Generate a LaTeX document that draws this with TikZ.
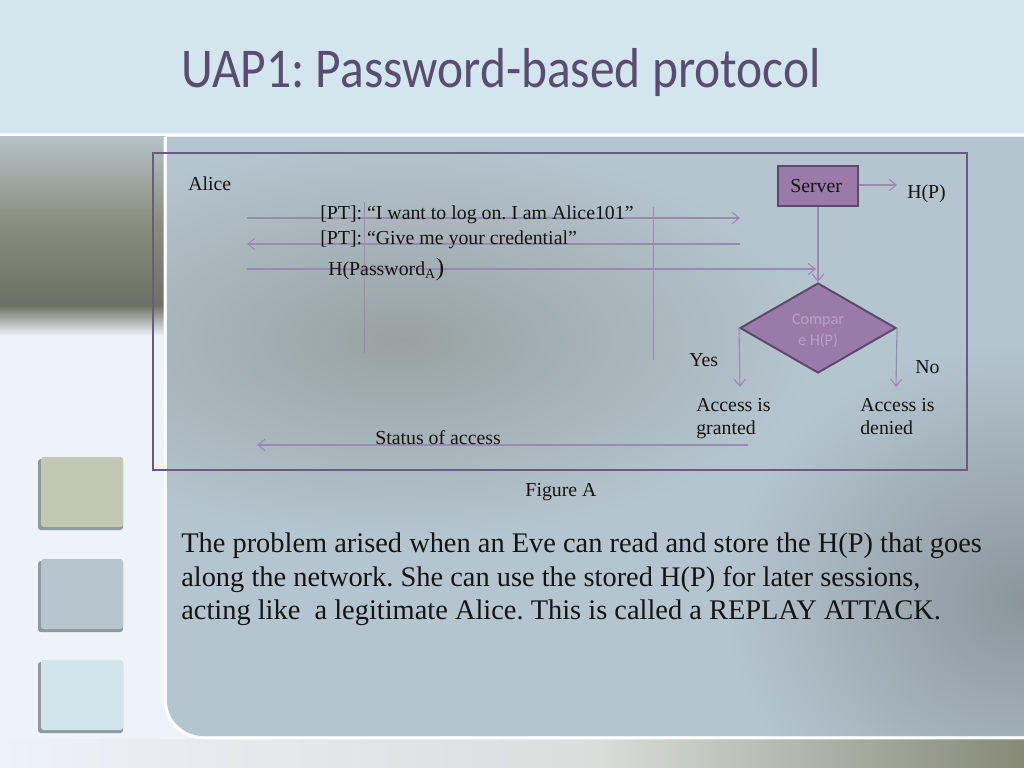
\documentclass[tikz,border=0pt]{standalone}
\usepackage{fontspec}
\setmainfont{Liberation Serif}
\newfontfamily\titlefont[FakeStretch=0.88]{Carlito}
\newfontfamily\smallsans{Carlito}
\usetikzlibrary{arrows.meta,positioning,shapes.geometric,calc}
\frenchspacing
\definecolor{ink}{HTML}{141414}
\definecolor{topband}{HTML}{D3E6EE}
\definecolor{lightbg}{HTML}{EEF2F9}
\definecolor{panelbase}{HTML}{B5C5CF}
\definecolor{panelgray}{HTML}{98A2A2}
\definecolor{paneldark}{HTML}{8A969C}
\definecolor{photoa}{HTML}{B4C2C6}
\definecolor{photob}{HTML}{8A8E7E}
\definecolor{photoc}{HTML}{6C7064}
\definecolor{olive}{HTML}{A8AC94}
\definecolor{framepurple}{HTML}{6B5B7E}
\definecolor{boxfill}{HTML}{9A7AA8}
\definecolor{boxedge}{HTML}{5C4A6C}
\definecolor{arrowpurple}{HTML}{9D89B0}
\definecolor{titlecol}{HTML}{5B4D72}
\definecolor{cmptext}{HTML}{B7A1C9}
\definecolor{sqone}{HTML}{C3C8B4}
\definecolor{sqtwo}{HTML}{B7C6CE}
\definecolor{sqthree}{HTML}{D1E5EA}
\definecolor{sqshade}{HTML}{8E9AA0}
\tikzset{
  slidetitle/.style={font=\titlefont\fontsize{40}{44}\selectfont, text=titlecol, inner sep=0pt},
  bodytext/.style={font=\fontsize{20.2}{23.5}\selectfont, text=ink, align=left, inner sep=0pt},
  txt/.style={font=\fontsize{14.1}{16.4}\selectfont, text=ink, inner sep=0pt},
  msg/.style={-{Straight Barb[length=5pt,width=8pt]}, line width=0.8pt, draw=arrowpurple},
  lifeline/.style={line width=0.7pt, draw=arrowpurple},
  serverbox/.style={draw=boxedge, fill=boxfill, line width=1.8pt, minimum width=2cm, minimum height=1cm, inner sep=0pt},
  decision/.style={diamond, draw=boxedge, fill=boxfill, line width=1.4pt, minimum width=3.9cm, minimum height=2.25cm, inner sep=0pt, aspect=1.73},
  square/.style={rounded corners=2pt}
}
\begin{document}
\begin{tikzpicture}[x=0.025cm, y=-0.025cm]
\useasboundingbox (0,0) rectangle (1024,768);
% slide background
\fill[lightbg] (0,0) rectangle (1024,768);
\fill[topband] (0,0) rectangle (1024,133);
\draw[white, line width=2pt] (0,135) -- (1024,135);
\shade[top color=photoa, bottom color=photob] (0,137) rectangle (165,222);
\shade[top color=photob, bottom color=photoc] (0,221) rectangle (165,306);
\shade[top color=photoc, bottom color=lightbg] (0,305) rectangle (165,336);
\shade[left color=lightbg, right color=lightbg!70!olive] (0,739) rectangle (600,768);
\shade[left color=lightbg!70!olive, right color=olive!80!black] (599,739) rectangle (1024,768);
\fill[panelbase] (167,137) -- (1024,137) -- (1024,736) -- (204,736)
  .. controls (184,736) and (167,720) .. (167,700) -- cycle;
\begin{scope}
  \clip (167,137) -- (1024,137) -- (1024,736) -- (204,736)
    .. controls (184,736) and (167,720) .. (167,700) -- cycle;
  \shade[inner color=panelgray, outer color=panelbase] (400,340) ellipse [x radius=420, y radius=200];
  \shade[inner color=paneldark, outer color=panelbase] (1024,600) ellipse [x radius=300, y radius=260];
\end{scope}
\draw[white, line width=2pt] (165,137) -- (165,700) .. controls (165,722) and (183,738) .. (204,738) -- (1024,738);
% side squares
\foreach \y/\c in {457/sqone, 559/sqtwo, 660/sqthree} {
  \fill[sqshade, square] (38,\y+2) rectangle (123,\y+73);
  \fill[\c, square] (41,\y) rectangle (123,\y+70);
}
% title and text
\node[slidetitle, anchor=base west] (title) at (181,88) {UAP1: Password-based protocol};
\node[bodytext, anchor=north west] (story) at (181,533) {The problem arised when an Eve can read and store the H(P) that goes\\
along the network. She can use the stored H(P) for later sessions,\\
acting like\ \ a legitimate Alice. This is called a REPLAY ATTACK.};
% figure frame
\draw[framepurple, line width=2.1pt] (153,153) rectangle (967,470);
\node[txt, anchor=base] (caption) at (561,496) {Figure A};
% actors
\node[txt, anchor=base west] (alice) at (188,191) {Alice};
\node[serverbox] (server) at (818,186) {};
\node[txt, anchor=base west] (srvtxt) at (790,192) {Server};
\node[txt, anchor=base west] (hp) at (907,198) {H(P)};
\coordinate (hpend) at (897,185);
\draw[msg] (server.east |- hpend) -- (hpend);
% lifelines
\coordinate (la) at (364,202);
\coordinate (lb) at (364,353);
\coordinate (ra) at (653,207);
\coordinate (rb) at (653,360);
\draw[lifeline] (la) -- (lb);
\draw[lifeline] (ra) -- (rb);
% messages
\coordinate (m1a) at (247,218);
\coordinate (m1b) at (740,218);
\coordinate (m2a) at (740,244);
\coordinate (m2b) at (247,244);
\coordinate (m3a) at (247,269);
\coordinate (m3b) at (816,269);
\coordinate (m4a) at (748,445);
\coordinate (m4b) at (257,445);
\draw[msg] (m1a) -- (m1b);
\draw[msg] (m2a) -- (m2b);
\draw[msg] (m3a) -- (m3b);
\draw[msg] (m4a) -- (m4b);
\node[txt, anchor=base west] (want) at (320,219) {[PT]: “I want to log on. I am Alice101”};
\node[txt, anchor=base west] (cred) at (320,244) {[PT]: “Give me your credential”};
\node[txt, anchor=base west] (hpw) at (328,275) {H(Password\textsubscript{A}{\fontsize{18}{18}\selectfont )}};
\node[txt, anchor=base west] (status) at (375,444) {Status of access};
% decision
\node[decision] (cmp) at (818,328) {};
\node[align=center, inner sep=0pt, text=cmptext, font=\smallsans\fontsize{11.5}{14.5}\selectfont] (cmptxt) at (818,331) {Compar\\e H(P)};
\draw[msg] (server.south) -- (cmp.north);
\coordinate (yesend) at (740,387);
\coordinate (noend) at (896,387);
\draw[msg] (cmp.west) -- (yesend);
\draw[msg] (cmp.east) -- (noend);
\node[txt, anchor=base west] (yes) at (689,366) {Yes};
\node[txt, anchor=base west] (no) at (915,373) {No};
\node[txt, anchor=north west, align=left] (granted) at (696,398) {Access is\\granted};
\node[txt, anchor=north west, align=left] (denied) at (860,398) {Access is\\denied};
\end{tikzpicture}
\end{document}
